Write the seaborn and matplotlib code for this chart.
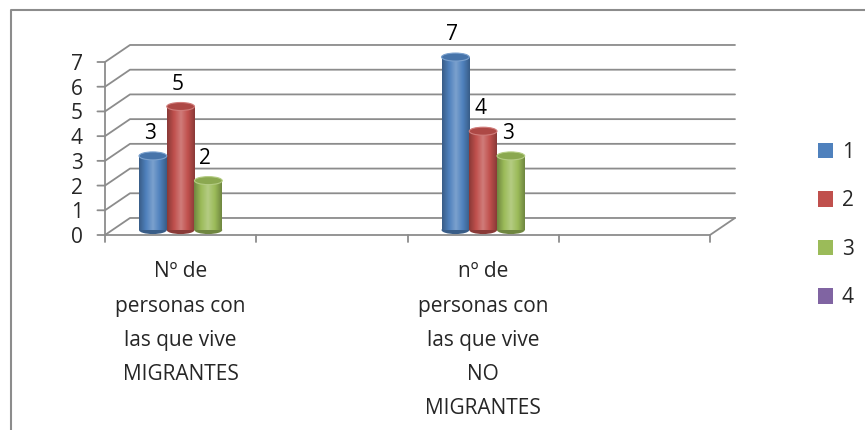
import numpy as np
import pandas as pd
import seaborn as sns
import matplotlib.pyplot as plt
from matplotlib.patches import Ellipse, Patch
from matplotlib.lines import Line2D
from matplotlib.colors import to_rgb, LinearSegmentedColormap

# --- datos ---
categorias = ["Nº de\npersonas con\nlas que vive\nMIGRANTES", "vacio1",
              "nº de\npersonas con\nlas que vive\nNO\nMIGRANTES", "vacio2"]
series = ["1", "2", "3", "4"]
migrantes = [3, 5, 2]
no_migrantes = [7, 4, 3]
colores = ["#4F81BD", "#C0504D", "#9BBB59", "#8064A2"]

filas = []
for s, v in zip(series[:3], migrantes):
    filas.append({"cat": categorias[0], "serie": s, "valor": v})
for s, v in zip(series[:3], no_migrantes):
    filas.append({"cat": categorias[2], "serie": s, "valor": v})
df = pd.DataFrame(filas)

sns.set_theme(style="white")
plt.rcParams["font.family"] = ["Open Sans", "DejaVu Sans"]
fs = 15
gris = "#8c8c8c"

fig = plt.figure(figsize=(8.65, 4.3), dpi=100)
ax = fig.add_axes([105 / 865, (430 - 235) / 430, 605 / 865, 173 / 430])

sns.barplot(data=df, x="cat", y="valor", hue="serie", order=categorias,
            hue_order=series[:3], palette=colores[:3], width=0.55,
            dodge=True, legend=False, ax=ax, linewidth=0, saturation=1)

ax.set_xlim(-0.5, 3.5)
ax.set_ylim(0, 7)
for sp in ax.spines.values():
    sp.set_visible(False)

# perspectiva 3D simulada
dx, dy = 25 / 151.25, 17 / 24.7
kw = dict(color=gris, lw=1.3, clip_on=False, zorder=0.5)
for v in range(8):
    ax.add_line(Line2D([-0.5 - 0.05, -0.5, -0.5 + dx, 3.5 + dx], [v, v, v + dy, v + dy], **kw))
ax.add_line(Line2D([-0.5, -0.5], [0, 7], **kw))
ax.add_line(Line2D([-0.5, 3.5, 3.5 + dx], [0, 0, dy], **kw))
for x in np.arange(-0.5, 3.6, 1):
    ax.add_line(Line2D([x, x], [0, -0.3], **kw))

# cilindros
alto_elipse = 8 / 24.7
levantar = 0.2
for p in ax.patches:
    c = np.array(to_rgb(p.get_facecolor()))
    x0, w, h = p.get_x(), p.get_width(), p.get_height()
    p.set_y(levantar)
    p.set_clip_on(False)
    osc = np.clip(c * 0.72, 0, 1)
    cla = np.clip(c + (1 - c) * 0.25, 0, 1)
    cmap = LinearSegmentedColormap.from_list("c", [osc, c, cla, c, osc], N=64)
    ax.add_patch(Ellipse((x0 + w / 2, levantar), w, alto_elipse, facecolor=osc,
                         edgecolor="none", zorder=1.5, clip_on=False))
    img = ax.imshow(np.linspace(0, 1, 64).reshape(1, -1), cmap=cmap, aspect="auto",
                    extent=[x0, x0 + w, levantar, levantar + h], zorder=2)
    img.set_clip_box(None)
    img.set_clip_path(p)
    ax.add_patch(Ellipse((x0 + w / 2, levantar + h), w, alto_elipse,
                         facecolor=np.clip(c * 0.9, 0, 1), edgecolor=cla, lw=0.8,
                         zorder=3, clip_on=False))
    ax.text(x0 + w / 2 - 0.02, h + levantar + 0.9, f"{int(round(h))}", ha="center",
            va="center", fontsize=fs, color="black")

ax.set_xticks([0, 2])
ax.set_xticklabels([categorias[0], categorias[2]], fontsize=fs, linespacing=1.82, va="top")
ax.set_yticks(range(8))
ax.set_yticklabels([str(i) for i in range(8)], fontsize=fs)
ax.tick_params(axis="both", length=0)
ax.tick_params(axis="y", pad=16)
ax.tick_params(axis="x", pad=19)
ax.set_xlabel("")
ax.set_ylabel("")
ax.set_aspect("auto")
ax.set_xlim(-0.5, 3.5)
ax.set_ylim(0, 7)

# leyenda
manejadores = [Patch(facecolor=c, edgecolor="none") for c in colores]
fig.legend(manejadores, series, loc="center left", bbox_to_anchor=(799 / 865, 1 - 225 / 430),
           frameon=False, fontsize=fs, handlelength=0.75, handleheight=0.75,
           labelspacing=1.32, handletextpad=0.4)

# borde
fig.add_artist(Line2D([11 / 865, 11 / 865, 1], [0, 1 - 10 / 430, 1 - 10 / 430],
                      transform=fig.transFigure, color=gris, lw=1.5))

fig.savefig("out.png", dpi=100)
